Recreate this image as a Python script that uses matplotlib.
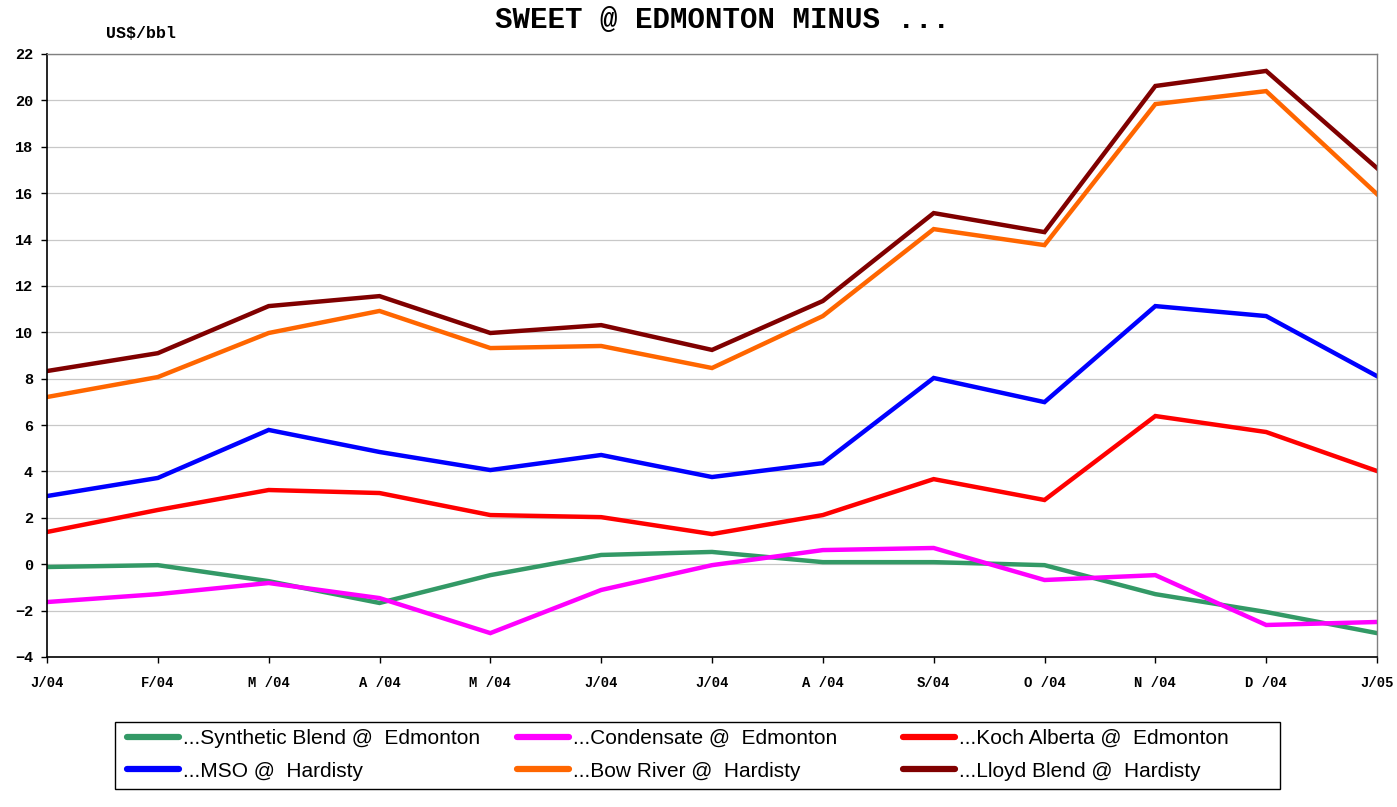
import matplotlib
matplotlib.use('Agg')
import matplotlib.pyplot as plt
from matplotlib.lines import Line2D
from matplotlib.patches import Rectangle

months = ["J/04", "F/04", "M /04", "A /04", "M /04", "J/04", "J/04",
          "A /04", "S/04", "O /04", "N /04", "D /04", "J/05"]

synthetic = [-0.12, -0.04, -0.73, -1.67, -0.47, 0.40, 0.53, 0.09, 0.09, -0.04, -1.29, -2.06, -2.97]
condensate = [-1.63, -1.29, -0.81, -1.46, -2.97, -1.11, -0.04, 0.61, 0.70, -0.68, -0.47, -2.62, -2.49]
koch = [1.39, 2.34, 3.20, 3.07, 2.12, 2.03, 1.30, 2.12, 3.67, 2.77, 6.39, 5.70, 4.02]
mso = [2.94, 3.72, 5.79, 4.84, 4.06, 4.71, 3.76, 4.36, 8.03, 6.99, 11.13, 10.70, 8.11]
bow_river = [7.21, 8.07, 9.97, 10.92, 9.32, 9.41, 8.46, 10.70, 14.45, 13.76, 19.84, 20.40, 15.96]
lloyd = [8.33, 9.10, 11.13, 11.56, 9.97, 10.31, 9.24, 11.35, 15.14, 14.32, 20.62, 21.27, 17.08]

series = [
    ("...Synthetic Blend @  Edmonton", synthetic, "#339966"),
    ("...Condensate @  Edmonton", condensate, "#FF00FF"),
    ("...Koch Alberta @  Edmonton", koch, "#FF0000"),
    ("...MSO @  Hardisty", mso, "#0000FF"),
    ("...Bow River @  Hardisty", bow_river, "#FF6600"),
    ("...Lloyd Blend @  Hardisty", lloyd, "#800000"),
]

MONO = ["Liberation Mono", "DejaVu Sans Mono"]
SANS = ["Liberation Sans", "DejaVu Sans"]
W, H = 1397, 807

fig = plt.figure(figsize=(13.97, 8.07), dpi=100)
ax = fig.add_axes([47 / W, 1 - 657 / H, 1330 / W, 603 / H])

x = list(range(len(months)))
for label, vals, col in series:
    ax.plot(x, vals, color=col, linewidth=3.2, solid_joinstyle="miter")

ax.set_xlim(0, len(months) - 1)
ax.set_ylim(-4, 22)
ax.set_yticks(range(-4, 23, 2))
ax.set_xticks(x)
ax.set_xticklabels(months)
ax.yaxis.grid(True, color="#c8c8c8", linewidth=0.9)
ax.set_axisbelow(True)

for s in ["top", "right"]:
    ax.spines[s].set_color("#808080")
    ax.spines[s].set_linewidth(1.0)
for s in ["left", "bottom"]:
    ax.spines[s].set_color("black")
    ax.spines[s].set_linewidth(1.2)

ax.tick_params(axis="both", direction="out", length=4, width=1, color="black")
ax.tick_params(axis="y", pad=6)
ax.tick_params(axis="x", pad=10)
for t in ax.get_xticklabels():
    t.set_family(MONO)
    t.set_fontweight("bold")
    t.set_fontsize(10)
for t in ax.get_yticklabels():
    t.set_family(MONO)
    t.set_fontweight("bold")
    t.set_fontsize(11)

fig.text(0.517, 0.975, "SWEET @ EDMONTON MINUS ...", ha="center", va="center",
         family=MONO, fontweight="bold", fontsize=21)
fig.text(0.076, 0.958, "US$/bbl", ha="left", va="center",
         family=MONO, fontweight="bold", fontsize=12)

# legend: box with three columns, rows read left to right
fig.patches.append(Rectangle((115 / W, 1 - 789 / H), 1165 / W, 67 / H,
                             transform=fig.transFigure, fill=False,
                             edgecolor="black", linewidth=1.0))
col_x = [127, 517, 903]
for c in range(3):
    items = [series[c], series[c + 3]]
    hs = [Line2D([], [], color=col, linewidth=4.5, solid_capstyle="round")
          for _, _, col in items]
    leg = fig.legend(hs, [lab for lab, _, _ in items], loc="center left",
                     bbox_to_anchor=(col_x[c] / W, 1 - 755 / H),
                     frameon=False, prop={"family": SANS, "size": 15},
                     handlelength=2.5, handletextpad=0.2,
                     labelspacing=0.65, borderpad=0, borderaxespad=0)

fig.savefig("out.png", dpi=100, facecolor="white")
